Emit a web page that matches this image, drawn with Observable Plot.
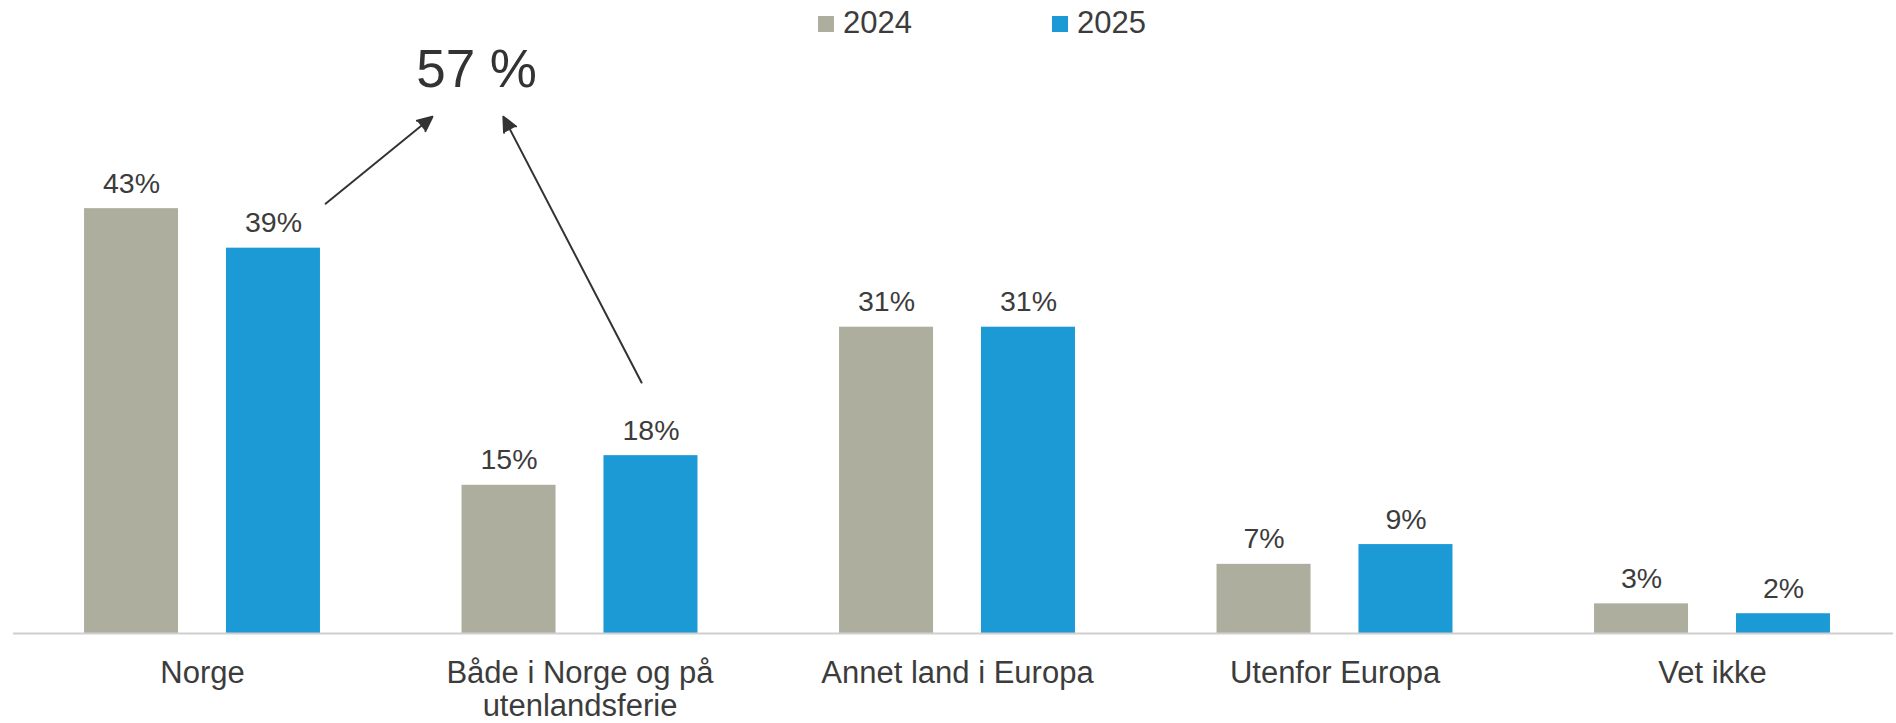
<!DOCTYPE html>
<html>
<head>
<meta charset="utf-8">
<script src="https://cdn.jsdelivr.net/npm/d3@7"></script>
<script src="https://cdn.jsdelivr.net/npm/@observablehq/plot@0.6"></script>
<style>
  body { margin: 0; background: #fff; font-family: "Liberation Sans", Arial, sans-serif; }
  #legend { position: relative; width: 1896px; height: 38px; }
  .item { position: absolute; top: 4px; height: 38px; line-height: 38px; display: flex; align-items: center; font-size: 31px; color: #3c3c3c; }
  .sw { width: 16px; height: 16px; margin-right: 9px; margin-top: 2px; }
  #chart svg { overflow: visible; }
</style>
</head>
<body>
<div id="legend"></div>
<div id="chart"></div>
<script>
// ---- data ----
const categories = ["Norge", "Både i Norge og på\nutenlandsferie", "Annet land i Europa", "Utenfor Europa", "Vet ikke"];
const years = ["2024", "2025"];
const values2024 = [43, 15, 31, 7, 3];
const values2025 = [39, 18, 31, 9, 2];
const yearColors = ["#adae9e", "#1b9ad6"];
const annotationText = ["57 %"];
// annotation arrows in data units (x = category index, y = percent)
const arrowFrom = [[0.326, 43.5], [1.163, 25.4]];
const arrowTo = [[0.609, 52.3], [0.797, 52.3]];
const annotationPos = [0.726, 55.3];

// ---- legend ----
const legend = document.getElementById("legend");
const legendLeft = [818, 1052];
years.forEach((yr, j) => {
  const it = document.createElement("div");
  it.className = "item";
  it.style.left = legendLeft[j] + "px";
  it.innerHTML = `<span class="sw" style="background:${yearColors[j]}"></span><span>${yr}</span>`;
  legend.appendChild(it);
});

// ---- chart ----
const seriesValues = [values2024, values2025];
const rows = categories.flatMap((c, i) => years.map((yr, j) => ({category: c, index: i, year: yr, j, value: seriesValues[j][i]})));
const offset = 0.188, half = 0.1245;
const center = d => d.index + (d.j === 0 ? -offset : offset);
const arrows = arrowFrom.map((f, k) => ({x1: f[0], y1: f[1], x2: arrowTo[k][0], y2: arrowTo[k][1]}));
const labels = categories.map((c, i) => ({c, i}));
const annotation = annotationText.map(t => ({t, x: annotationPos[0], y: annotationPos[1]}));

const chart = Plot.plot({
  width: 1896,
  height: 685,
  marginTop: 0,
  marginBottom: 90,
  marginLeft: 13,
  marginRight: 3,
  style: {fontFamily: "'Liberation Sans', Arial, sans-serif", color: "#3c3c3c", background: "transparent"},
  x: {domain: [-0.5, 4.5], range: [13.25, 1900.75], axis: null},
  y: {domain: [0, 60.22], axis: null},
  color: {domain: years, range: yearColors},
  marks: [
    Plot.rectY(rows, {x1: d => center(d) - half, x2: d => center(d) + half, y1: 0, y2: "value", fill: "year"}),
    Plot.ruleY([0], {stroke: "#cfcfcf", strokeWidth: 2}),
    Plot.text(rows, {x: center, y: "value", text: d => d.value + "%", lineAnchor: "bottom", dy: -16, fontSize: 28.5, fill: "#3c3c3c"}),
    Plot.text(labels, {x: "i", y: () => 0, text: "c", lineAnchor: "top", dy: 25.5, fontSize: 31, lineHeight: 1.07, fill: "#3c3c3c"}),
    Plot.arrow(arrows, {x1: "x1", y1: "y1", x2: "x2", y2: "y2", stroke: "#333", fill: "#333", strokeWidth: 2, headLength: 12, headAngle: 50}),
    Plot.text(annotation, {x: "x", y: "y", text: "t", lineAnchor: "bottom", fontSize: 53, fill: "#333"})
  ]
});
document.getElementById("chart").appendChild(chart);
</script>
</body>
</html>
